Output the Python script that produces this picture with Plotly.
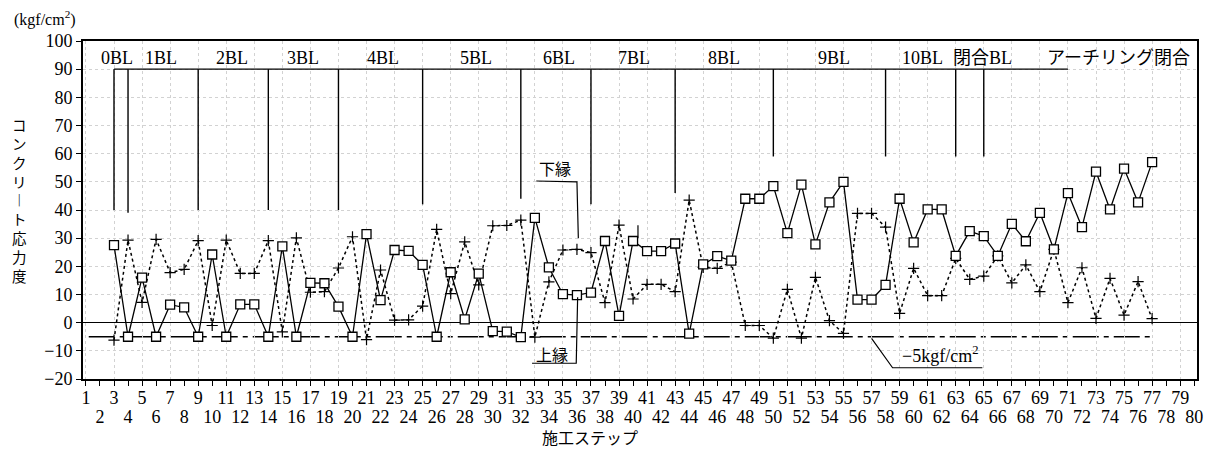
import plotly.graph_objects as go

# ---------------- data ----------------
steps = list(range(3, 78))

# 上縁 (upper edge) – solid line, square markers
upper = [27.5, -5, 16, -5, 6.4, 5.4, -5, 24.2, -5, 6.5,
         6.5, -5, 27.1, -5, 14.1, 14, 5.7, -5, 31.4, 8,
         25.8, 25.5, 20.5, -5, 17.9, 1.2, 17.4, -3.0, -3.2, -5.1,
         37.2, 19.6, 10.1, 9.8, 10.7, 29, 2.4, 29, 25.4, 25.4,
         28.1, -3.9, 20.7, 23.6, 22, 44, 44, 48.5, 31.8, 49,
         27.8, 42.7, 50, 8.2, 8.2, 13.4, 44, 28.5, 40.2, 40.2,
         23.7, 32.5, 30.7, 23.7, 35.1, 28.9, 39, 26, 46, 33.9,
         53.6, 40.2, 54.7, 42.7, 57]

# 下縁 (lower edge) – dotted line, cross markers
lower = [-6.2, 29.3, 7.2, 29.6, 17.8, 18.9, 29.1, -1.0, 29.3, 17.5,
         17.5, 29.1, -3.3, 30.1, 10.8, 11, 19.4, 30.5, -6.0, 18.7,
         0.9, 1.0, 5.9, 33.1, 10.3, 28.7, 13.4, 34.4, 34.5, 36.4,
         -5.1, 14.5, 25.8, 26, 24.9, 7.1, 34.6, 8.4, 13.6, 13.6,
         11, 43.5, 19.6, 19.3, 21.5, -1.0, -1.0, -5.5, 11.8, -5.5,
         16.1, 0.7, -3.8, 38.8, 38.8, 33.9, 3.3, 19.3, 9.6, 9.6,
         22.8, 15.4, 16.5, 23.7, 14.1, 20.5, 11, 26, 7.1, 19.5,
         1.5, 15.7, 2.7, 14.6, 1.4]

x_tickvals = list(range(1, 81))
x_odd = [v for v in x_tickvals if v % 2]
x_even = [v for v in x_tickvals if v % 2 == 0]
x_odd_text = [str(v) for v in x_odd]
x_even_text = [str(v) for v in x_even]
y_tickvals = [-20, -10, 0, 10, 20, 30, 40, 50, 60, 70, 80, 90, 100]
y_ticktext = ["−20", "−10", "0", "10", "20", "30", "40", "50", "60", "70", "80", "90", "100"]

# construction block boundaries
block_steps = [3, 4, 9, 14, 19, 25, 32, 37, 43, 50, 58, 63, 65]
block_bottoms = [40, 39, 40, 40, 40, 42, 44, 42, 46, 59, 59, 59, 59]
block_top = 90
block_top_end = 71
block_labels = ["0BL", "1BL", "2BL", "3BL", "4BL", "5BL", "6BL", "7BL",
                "8BL", "9BL", "10BL", "閉合BL", "アーチリング閉合"]
block_label_x = [3.2, 6.35, 11.4, 16.5, 22.2, 28.8, 34.7, 40.1, 46.5, 54.3, 60.6, 64.9, 74.6]
block_label_y = 94

limit_value = -5
limit_x = [1.2, 77]

y_title = "コンクリ︱ト応力度"

serif = "Liberation Serif, Noto Sans CJK JP"
cjk = "Noto Sans CJK JP"
XR = [0.79, 80.2]

# the page body has an 8px margin: size the figure so the plot area lands on target
PAGE_OFF = 8
W, H = 1212 - PAGE_OFF, 454 - PAGE_OFF
PL, PT, PR, PB = 83, 41, 1197, 379          # plot area in window pixels
PW, PH = PR - PL, PB - PT


def px(xw):
    return (xw - PL) / PW


def py(yw):
    return (PB - yw) / PH


fig = go.Figure()

fig.add_trace(go.Scatter(
    x=steps, y=lower, mode="lines+markers", name="下縁",
    line=dict(color="black", width=1.5, dash="dot"),
    marker=dict(symbol="cross-thin", size=8, line=dict(color="black", width=1.2)),
))
fig.add_trace(go.Scatter(
    x=steps, y=upper, mode="lines+markers", name="上縁",
    line=dict(color="black", width=1.3),
    marker=dict(symbol="square", size=9, color="white", line=dict(color="black", width=1.3)),
))
# invisible trace to carry the second (even-number) tick-label row
fig.add_trace(go.Scatter(x=[x_even[0]], y=[None], xaxis="x2", yaxis="y",
                         mode="markers", showlegend=False, hoverinfo="skip"))

shapes = []
shapes.append(dict(type="line", xref="x", yref="y", x0=limit_x[0], x1=limit_x[1],
                   y0=limit_value, y1=limit_value,
                   line=dict(color="black", width=1.4, dash="26px,5px,5px,5px"), layer="below"))
for s, b in zip(block_steps, block_bottoms):
    shapes.append(dict(type="line", xref="x", yref="y", x0=s, x1=s, y0=b, y1=block_top,
                       line=dict(color="black", width=1.4)))
shapes.append(dict(type="line", xref="x", yref="y", x0=block_steps[0], x1=block_top_end,
                   y0=block_top, y1=block_top, line=dict(color="black", width=1.4)))
shapes.append(dict(type="path", xref="x", yref="y",
                   path="M 33.1,50.3 L 36,50 L 36.1,30",
                   line=dict(color="black", width=1.2)))
shapes.append(dict(type="path", xref="x", yref="y",
                   path="M 32.8,-14.4 L 35.95,-14.4 L 36.05,9",
                   line=dict(color="black", width=1.2)))
shapes.append(dict(type="path", xref="x", yref="y",
                   path="M 57,-5.6 L 58.5,-16 L 64.9,-16",
                   line=dict(color="black", width=1.2)))
shapes.append(dict(type="line", xref="x", yref="y", x0=40.35, x1=40.35, y0=30, y1=34.6,
                   line=dict(color="black", width=1.2)))

annotations = []
for lab, lx in zip(block_labels, block_label_x):
    annotations.append(dict(x=lx, y=block_label_y, xref="x", yref="y", text=lab,
                            showarrow=False, font=dict(family=serif, size=18, color="black")))
annotations.append(dict(x=34.4, y=54.8, xref="x", yref="y", text="下縁", showarrow=False,
                        font=dict(family=cjk, size=16, color="black")))
annotations.append(dict(x=34.25, y=-11.2, xref="x", yref="y", text="上縁", showarrow=False,
                        font=dict(family=cjk, size=16, color="black")))
annotations.append(dict(x=61.9, y=-11.4, xref="x", yref="y", text="−5kgf/cm<sup>2</sup>",
                        showarrow=False, font=dict(family=serif, size=18, color="black")))
annotations.append(dict(x=px(45), y=py(19), xref="paper", yref="paper",
                        text="(kgf/cm<sup>2</sup>)", showarrow=False,
                        xanchor="center", yanchor="middle",
                        font=dict(family=serif, size=16, color="black")))
annotations.append(dict(x=px(590), y=py(437), xref="paper", yref="paper",
                        text="施工ステップ", showarrow=False, xanchor="center", yanchor="middle",
                        font=dict(family=cjk, size=16, color="black")))
annotations.append(dict(x=px(19), y=py(200), xref="paper", yref="paper",
                        text="<br>".join(list(y_title)), showarrow=False,
                        xanchor="center", yanchor="middle",
                        font=dict(family=cjk, size=14.5, color="black")))

grid_col = "#d2d2d2"
fig.update_layout(
    width=W, height=H,
    margin=dict(l=PL - PAGE_OFF, r=1212 - PR, t=PT - PAGE_OFF, b=454 - PB, autoexpand=False),
    paper_bgcolor="white", plot_bgcolor="white",
    showlegend=False,
    shapes=shapes, annotations=annotations,
    xaxis=dict(range=XR, tickmode="array", tickvals=x_odd, ticktext=x_odd_text,
               ticks="outside", ticklen=5, tickwidth=1.2, tickcolor="black",
               showgrid=True, gridcolor=grid_col, griddash="dot", gridwidth=1,
               zeroline=False, automargin=False,
               showline=True, linecolor="black", linewidth=1.6, mirror=True,
               tickfont=dict(family=serif, size=18, color="black"), tickangle=0,
               ticklabelstandoff=-3,
               minor=dict(tickmode="array", tickvals=x_even, ticks="outside", ticklen=5,
                          tickwidth=1.2, tickcolor="black", showgrid=False)),
    xaxis2=dict(range=XR, overlaying="x", side="bottom", anchor="y",
                tickmode="array", tickvals=x_even, ticktext=x_even_text,
                ticks="", showgrid=False, zeroline=False, showline=False, automargin=False,
                tickfont=dict(family=serif, size=18, color="black"), tickangle=0,
                ticklabelstandoff=25),
    yaxis=dict(range=[-20, 100], tickmode="array", tickvals=y_tickvals, ticktext=y_ticktext,
               ticks="outside", ticklen=5, tickwidth=1.2, tickcolor="black",
               showgrid=True, gridcolor=grid_col, griddash="dot", gridwidth=1,
               zeroline=True, zerolinecolor="black", zerolinewidth=1.4, automargin=False,
               showline=True, linecolor="black", linewidth=1.8, mirror=True,
               tickfont=dict(family=serif, size=18, color="black")),
)

fig.write_html("out.html")
